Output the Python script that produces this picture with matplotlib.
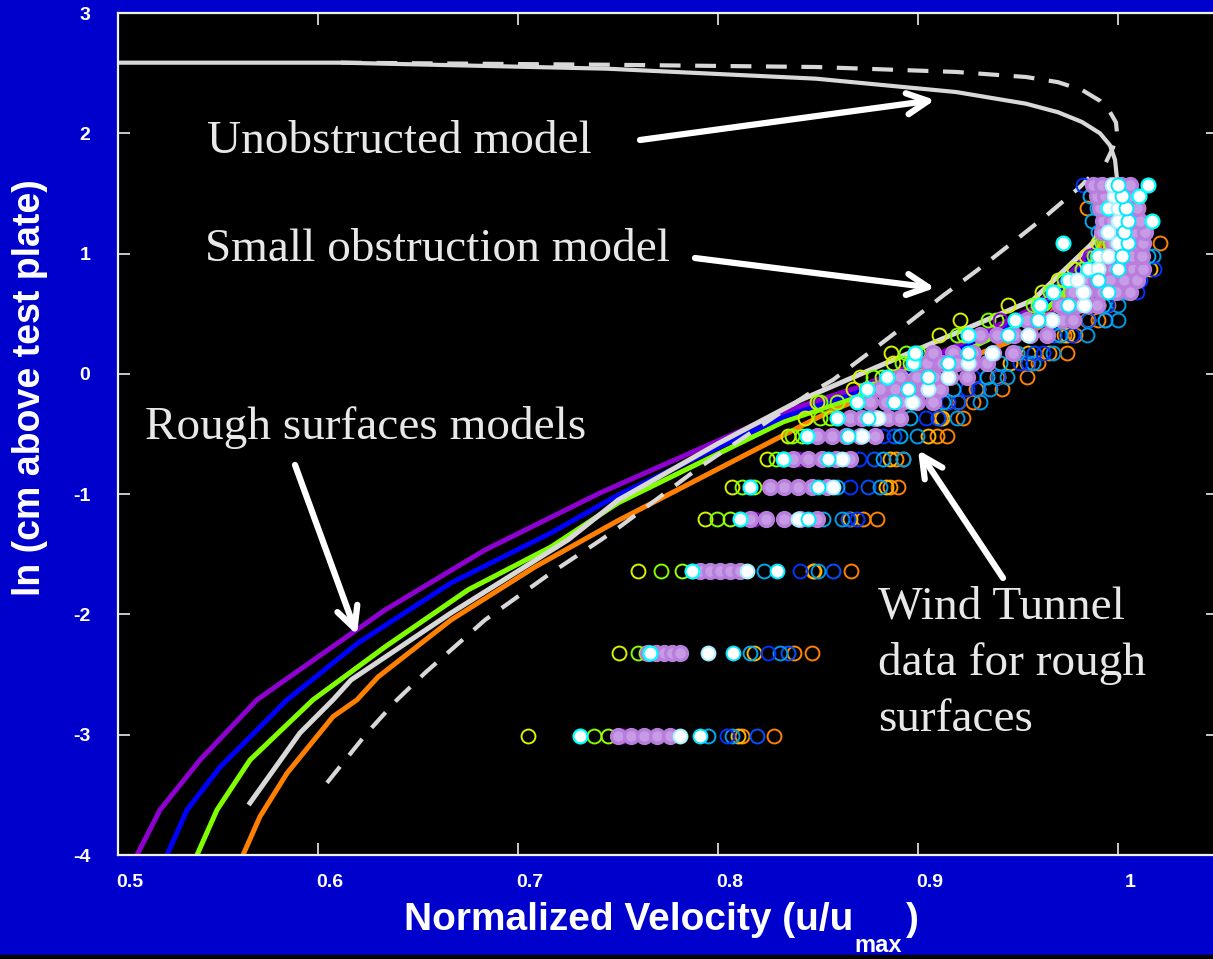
import matplotlib
matplotlib.use('Agg')
import matplotlib.pyplot as plt
import matplotlib.transforms as mtransforms
from matplotlib.patches import Rectangle

plt.rcParams['axes.unicode_minus'] = False

# wind tunnel rows: ln(height above plate)
rows_y = [-3.01, -2.32, -1.64, -1.21, -0.94, -0.71, -0.52, -0.37, -0.23, -0.13, -0.03, 0.09, 0.17,
          0.32, 0.45, 0.57, 0.68, 0.78, 0.87, 0.98, 1.09, 1.18, 1.27, 1.38, 1.48, 1.57]

# normalized velocities, one list per run
yellow = [0.705, 0.7505, 0.760, 0.7935, 0.807, 0.8245, 0.835, 0.8435, 0.8495, 0.8675, 0.871, 0.8875, 0.8865,
          0.9105, 0.921, 0.945, 0.962, 0.970, 0.978, 0.984, 0.990, 0.992, 0.993, 0.994, 0.995, 0.996]
lime1 = [0.738, 0.760, 0.7715, 0.7995, 0.812, 0.829, 0.837, 0.851, 0.851, 0.8745, 0.8775, 0.892, 0.894,
         0.9195, 0.935, 0.9575, 0.966, 0.973, 0.982, 0.988, 0.992, 0.994, 0.995, 0.996, 0.997, 0.998]
lime2 = [0.745, 0.764, 0.782, 0.806, 0.818, 0.833, 0.842, 0.856, 0.8595, 0.878, 0.882, 0.896, 0.900,
         0.923, 0.939, 0.960, 0.970, 0.976, 0.986, 0.992, 0.996, 0.998, 0.999, 1.000, 1.000, 1.000]
purple = [0.752, 0.768, 0.790, 0.818, 0.826, 0.840, 0.850, 0.866, 0.876, 0.881, 0.891, 0.9045, 0.9075,
          0.931, 0.941, 0.965, 0.978, 0.984, 0.990, 0.986, 0.998, 0.994, 0.993, 0.992, 0.990, 0.988]
lav1 = [0.750, 0.765, 0.791, 0.816, 0.826, 0.8375, 0.8495, 0.866, 0.876, 0.881, 0.891, 0.9045, 0.9075,
        0.931, 0.9545, 0.971, 0.9775, 0.9825, 0.9925, 0.991, 0.9975, 0.992, 0.9925, 0.991, 0.9895, 0.9875]
lav2 = [0.7565, 0.769, 0.796, 0.824, 0.833, 0.845, 0.857, 0.872, 0.884, 0.8885, 0.8995, 0.912, 0.9175,
        0.9395, 0.960, 0.9755, 0.9845, 0.989, 0.9975, 0.996, 1.001, 0.997, 0.997, 0.9955, 0.9935, 0.992]
lav3 = [0.763, 0.773, 0.801, 0.833, 0.840, 0.852, 0.864, 0.8785, 0.892, 0.896, 0.908, 0.9195, 0.9275,
        0.948, 0.966, 0.980, 0.992, 0.996, 1.0025, 1.0015, 1.005, 1.003, 1.002, 1.000, 0.998, 0.997]
lav4 = [0.7695, 0.777, 0.806, 0.841, 0.847, 0.859, 0.871, 0.885, 0.8995, 0.9035, 0.916, 0.927, 0.9375,
        0.956, 0.972, 0.985, 0.999, 1.003, 1.0075, 1.007, 1.009, 1.008, 1.0065, 1.005, 1.002, 1.0015]
lav5 = [0.776, 0.781, 0.811, 0.8495, 0.8545, 0.866, 0.8785, 0.891, 0.9075, 0.911, 0.9245, 0.9345, 0.9475,
        0.9645, 0.9775, 0.9895, 1.006, 1.0095, 1.0125, 1.012, 1.0125, 1.0135, 1.011, 1.0095, 1.006, 1.006]
cyan1 = [0.731, 0.766, 0.787, 0.811, 0.816, 0.8325, 0.8445, 0.8595, 0.8695, 0.8745, 0.8845, 0.8975, 0.8985,
         0.925, 0.9485, 0.961, 0.9675, 0.975, 0.985, 0.990, 0.9725, 0.995, 1.017, 0.995, 1.0105, 1.015]
cyan2 = [0.781, 0.795, 0.8145, 0.840, 0.8575, 0.862, 0.872, 0.880, 0.897, 0.905, 0.915, 0.925, 0.937,
         0.955, 0.967, 0.983, 0.9825, 0.9795, 0.990, 0.995, 1.000, 0.995, 1.000, 1.000, 0.998, 0.997]
cyan3 = [0.791, 0.8075, 0.8295, 0.845, 0.850, 0.855, 0.865, 0.875, 0.888, 0.895, 0.905, 0.915, 0.925,
         0.945, 0.960, 0.975, 0.995, 0.990, 1.000, 1.002, 1.005, 1.003, 1.005, 1.004, 1.002, 1.000]
sky1 = [0.795, 0.816, 0.823, 0.8525, 0.8595, 0.8825, 0.891, 0.896, 0.9125, 0.9175, 0.9345, 0.941, 0.9495,
        0.971, 0.9935, 0.9925, 1.0045, 1.009, 0.9875, 1.015, 0.996, 0.990, 0.987, 0.9895, 0.986, 0.990]
sky2 = [0.807, 0.831, 0.850, 0.862, 0.881, 0.8925, 0.8995, 0.9195, 0.931, 0.936, 0.9445, 0.9575, 0.9675,
        0.9845, 1.000, 1.000, 1.002, 1.004, 1.010, 1.0175, 1.011, 1.005, 1.003, 1.000, 1.000, 1.000]
blue1 = [0.8045, 0.825, 0.841, 0.8695, 0.866, 0.8705, 0.8825, 0.904, 0.915, 0.9245, 0.9275, 0.951, 0.9625,
         0.977, 0.9935, 0.9945, 1.0095, 1.011, 1.018, 1.006, 1.008, 1.010, 1.000, 1.000, 0.995, 0.9825]
blue2 = [0.8195, 0.835, 0.8575, 0.865, 0.875, 0.878, 0.888, 0.910, 0.920, 0.930, 0.940, 0.955, 0.958,
         0.968, 0.985, 0.990, 1.000, 1.005, 1.012, 1.000, 1.002, 1.000, 0.998, 0.996, 0.994, 0.992]
gold = [0.810, 0.818, 0.848, 0.866, 0.884, 0.886, 0.905, 0.912, 0.920, 0.930, 0.940, 0.946, 0.955,
        0.9745, 0.985, 0.990, 1.000, 1.000, 1.016, 1.010, 0.993, 1.008, 1.000, 1.007, 1.008, 1.000]
orange1 = [0.812, 0.838, 0.8475, 0.8725, 0.886, 0.889, 0.9095, 0.911, 0.9145, 0.929, 0.9395, 0.9545, 0.9655,
           0.973, 0.9845, 0.990, 1.002, 1.005, 1.000, 0.9895, 1.005, 1.005, 1.000, 0.9845, 1.000, 0.998]
orange2 = [0.828, 0.847, 0.8665, 0.8795, 0.890, 0.8925, 0.9145, 0.9225, 0.9275, 0.942, 0.9545, 0.960, 0.9745,
           0.9785, 0.990, 0.995, 1.006, 1.008, 1.005, 1.005, 1.021, 1.008, 1.005, 1.010, 1.003, 1.000]

# model profiles (velocity, ln height)
unobs_u = [0.500, 0.6115, 0.7445, 0.849, 0.919, 0.954, 0.970, 0.982, 0.991, 0.996, 0.9985, 0.9995]
unobs_z = [2.587, 2.587, 2.537, 2.454, 2.343, 2.246, 2.175, 2.094, 2.000, 1.900, 1.780, 1.623]
unobs2_u = [0.6115, 0.7445, 0.849, 0.919, 0.954, 0.970, 0.982, 0.991, 0.996, 0.999, 0.9995, 0.9975, 0.994]
unobs2_z = [2.587, 2.570, 2.551, 2.510, 2.468, 2.425, 2.360, 2.270, 2.177, 2.090, 2.000, 1.880, 1.760]
small_u = [0.6045, 0.6245, 0.6395, 0.6535, 0.6835, 0.7165, 0.7415, 0.751, 0.791, 0.8445, 0.8575, 0.8775,
           0.896, 0.9125, 0.9295, 0.946, 0.9645, 0.981, 0.986]
small_z = [-3.40, -2.985, -2.71, -2.486, -2.046, -1.655, -1.38, -1.27, -0.774, -0.175, -0.05, 0.200,
           0.435, 0.650, 0.860, 1.075, 1.320, 1.554, 1.637]
rough_purple_u = [0.5095, 0.521, 0.541, 0.5695, 0.5835, 0.6335, 0.6835, 0.741, 0.8325, 0.872, 0.915, 0.958,
                  0.980, 0.993, 0.997]
rough_purple_z = [-4.0, -3.625, -3.21, -2.71, -2.545, -1.963, -1.464, -0.99, -0.317, -0.10, 0.20, 0.55,
                  0.90, 1.25, 1.60]
rough_blue_u = [0.5245, 0.5345, 0.551, 0.5845, 0.620, 0.6665, 0.7165, 0.750, 0.8325, 0.877, 0.918, 0.960,
                0.982, 0.994, 0.998]
rough_blue_z = [-4.0, -3.625, -3.27, -2.71, -2.237, -1.738, -1.322, -1.007, -0.358, -0.11, 0.19, 0.53,
                0.88, 1.25, 1.60]
rough_green_u = [0.5395, 0.5495, 0.566, 0.5975, 0.6335, 0.675, 0.7165, 0.750, 0.8325, 0.882, 0.922, 0.962,
                 0.984, 0.995, 0.999]
rough_green_z = [-4.0, -3.625, -3.21, -2.71, -2.27, -1.796, -1.439, -1.073, -0.40, -0.12, 0.18, 0.50,
                 0.87, 1.25, 1.60]
rough_grey_u = [0.566, 0.591, 0.6075, 0.6165, 0.6665, 0.725, 0.750, 0.800, 0.841, 0.891, 0.9575, 0.9875,
                0.996, 0.998]
rough_grey_z = [-3.567, -2.985, -2.71, -2.545, -1.988, -1.38, -1.05, -0.58, -0.22, 0.14, 0.614, 1.09,
                1.35, 1.60]
rough_orange_u = [0.5625, 0.571, 0.5845, 0.6075, 0.6195, 0.630, 0.6665, 0.7085, 0.750, 0.8475, 0.8575,
                  0.9445, 0.961, 0.990, 1.000]
rough_orange_z = [-4.0, -3.68, -3.32, -2.85, -2.71, -2.52, -2.046, -1.605, -1.22, -0.383, -0.30,
                  0.257, 0.39, 1.00, 1.60]

xticks = [0.5, 0.6, 0.7, 0.8, 0.9, 1.0]
xtick_labels = ['0.5', '0.6', '0.7', '0.8', '0.9', '1']
yticks = [-4, -3, -2, -1, 0, 1, 2, 3]

W, H = 1213, 959
fig = plt.figure(figsize=(W / 100, H / 100), dpi=100, facecolor='#0000CC')
ax = fig.add_axes([118 / W, 104 / H, 1100 / W, 842 / H])
ax.set_facecolor('black')
ax.set_xlim(0.5, 1.05)
ax.set_ylim(-4, 3)

# model curves
lw_model = 3.6
ax.plot(rough_orange_u, rough_orange_z, color='#FF8000', lw=lw_model, zorder=2)
ax.plot(rough_green_u, rough_green_z, color='#80FF00', lw=lw_model, zorder=2)
ax.plot(rough_blue_u, rough_blue_z, color='#0000FF', lw=lw_model, zorder=2)
ax.plot(rough_purple_u, rough_purple_z, color='#8E00D0', lw=lw_model, zorder=2)
ax.plot(rough_grey_u, rough_grey_z, color='#D8D8D8', lw=lw_model, zorder=2)
ax.plot(small_u, small_z, color='#D8D8D8', lw=3.0, ls=(0, (5, 3.5)), zorder=2)
ax.plot(unobs2_u, unobs2_z, color='#D8D8D8', lw=3.0, ls=(0, (5, 3.5)), zorder=2)
ax.plot(unobs_u, unobs_z, color='#D8D8D8', lw=3.0, zorder=2)

# wind tunnel runs
ms = 10
runs = [
    (orange2, '#FF8000', 'none', 1.4),
    (orange1, '#FF8C00', 'none', 1.4),
    (gold, '#FFB800', 'none', 1.4),
    (blue2, '#0050FF', 'none', 1.4),
    (sky2, '#0099E6', 'none', 1.4),
    (blue1, '#0033FF', 'none', 1.4),
    (sky1, '#00A8F0', 'none', 1.4),
    (yellow, '#D8F000', 'none', 1.4),
    (lime1, '#80FF00', 'none', 1.4),
    (lime2, '#99FF00', 'none', 1.4),
    (purple, '#9000D8', 'none', 1.4),
    (lav1, '#B87EDC', '#C79BE6', 2.4),
    (lav2, '#B87EDC', '#C79BE6', 2.4),
    (lav3, '#B87EDC', '#C79BE6', 2.4),
    (lav4, '#B87EDC', '#C79BE6', 2.4),
    (lav5, '#B87EDC', '#C79BE6', 2.4),
    (cyan1, '#00FFFF', 'white', 1.6),
    (cyan2, '#A8F0FF', 'white', 1.4),
    (cyan3, '#00E8FF', 'white', 1.4),
]
for xs, ec, fc, mew in runs:
    ax.plot(xs, rows_y, ls='none', marker='o', ms=ms, mec=ec, mfc=fc, mew=mew, zorder=3)

# axes styling
for sp in ax.spines.values():
    sp.set_color('#F0F0F0')
    sp.set_linewidth(1.6)
ax.set_xticks(xticks)
ax.set_xticklabels(xtick_labels)
ax.set_yticks(yticks)
ax.tick_params(direction='in', length=8.6, width=1.1, color='white', top=True, right=True,
               labelcolor='white', labelsize=14)
ax.tick_params(axis='x', pad=14)
ax.tick_params(axis='y', pad=20)
offset = mtransforms.ScaledTranslation(12 / 100, 0, fig.dpi_scale_trans)
for lbl in ax.get_xticklabels():
    lbl.set_fontweight('bold')
    lbl.set_family('Liberation Sans')
    lbl.set_transform(lbl.get_transform() + offset)
for lbl in ax.get_yticklabels():
    lbl.set_fontweight('bold')
    lbl.set_family('Liberation Sans')

# axis titles
lab = dict(color='white', fontweight='bold', family='Liberation Sans')
fig.text(30 / W, 1 - 388 / H, 'ln (cm above test plate)', rotation=90, ha='center', va='center',
         fontsize=27, **lab)
fig.text(853 / W, 1 - 920 / H, 'Normalized Velocity (u/u', ha='right', va='center', fontsize=28, **lab)
fig.text(912 / W, 1 - 920 / H, ')', ha='center', va='center', fontsize=28, **lab)
fig.text(878 / W, 1 - 945 / H, 'max', ha='center', va='center', fontsize=17, **lab)

# annotations
txt = dict(color='#E8E8E8', family='Liberation Serif', fontsize=34)
ax.text(0.5445, 1.93, 'Unobstructed model', ha='left', va='center', **txt)
ax.text(0.5435, 1.03, 'Small obstruction model', ha='left', va='center', **txt)
ax.text(0.5135, -0.45, 'Rough surfaces models', ha='left', va='center', **txt)
ax.text(0.880, -1.76, 'Wind Tunnel\ndata for rough\nsurfaces', ha='left', va='top',
        linespacing=1.42, **txt)

arrow = dict(arrowstyle='->', color='white', lw=4.5, mutation_scale=38, shrinkA=0, shrinkB=0)
ax.annotate('', xy=(0.9085, 2.277), xytext=(0.761, 1.944), arrowprops=arrow)
ax.annotate('', xy=(0.9085, 0.714), xytext=(0.7885, 0.963), arrowprops=arrow)
ax.annotate('', xy=(0.6195, -2.17), xytext=(0.5885, -0.757), arrowprops=arrow)
ax.annotate('', xy=(0.900, -0.633), xytext=(0.9425, -1.697), arrowprops=arrow)

fig.patches.append(Rectangle((0, 0), 1, 4 / H, transform=fig.transFigure, color='black', zorder=5))

fig.savefig('out.png', dpi=100, facecolor=fig.get_facecolor())
